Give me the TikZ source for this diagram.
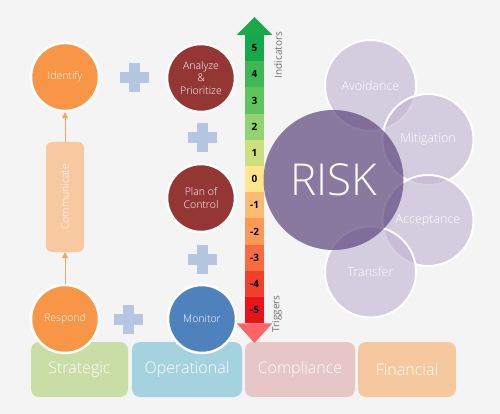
\documentclass[tikz,border=0pt]{standalone}
\usepackage{fontspec}
\setmainfont{Open Sans}
\newfontfamily\lightfont{Open Sans Light}
\usetikzlibrary{arrows.meta}
\usepackage{xcolor}
\definecolor{bg}{HTML}{F4F4F4}
\definecolor{orange}{HTML}{F79646}
\definecolor{maroon}{HTML}{943634}
\definecolor{steel}{HTML}{4F81BD}
\definecolor{crossc}{HTML}{B7C6E0}
\definecolor{commfill}{HTML}{F8C8A0}
\definecolor{commline}{HTML}{F7A365}
\definecolor{strat}{HTML}{C9DDA7}
\definecolor{oper}{HTML}{A4D2DF}
\definecolor{compl}{HTML}{E6C6C7}
\definecolor{fin}{HTML}{F6C8A0}
\definecolor{sat}{HTML}{C0B2D2}
\definecolor{riskc}{HTML}{5D467C}
\definecolor{l5}{HTML}{14A94B}
\definecolor{l4}{HTML}{3DB853}
\definecolor{l3}{HTML}{5EC45E}
\definecolor{l2}{HTML}{93D270}
\definecolor{l1}{HTML}{CDE07D}
\definecolor{l0}{HTML}{FFE68A}
\definecolor{m1}{HTML}{FDBB72}
\definecolor{m2}{HTML}{FC9957}
\definecolor{m3}{HTML}{F96A3E}
\definecolor{m4}{HTML}{F0402A}
\definecolor{m5}{HTML}{E8141A}
\definecolor{headup}{HTML}{19A94A}
\definecolor{headdown}{HTML}{FF6464}
\definecolor{grey}{HTML}{707070}

\begin{document}
\begin{tikzpicture}[x=1pt, y=-1pt,
		c/.style = {circle,	draw=white,	line width=2.5pt,	minimum size=68pt,	inner sep=0pt,	text=white,	align=center,	font=\lightfont\fontsize{10.5}{12.5}\selectfont},
		b/.style = {rectangle,	rounded corners=8pt,	minimum height=55pt,	inner sep=0pt,	text=white,	font=\lightfont\fontsize{16}{19}\selectfont},
		n/.style = {rectangle,	minimum width=19pt,	minimum height=26.2pt,	inner sep=0pt,	font=\bfseries\fontsize{10}{12}\selectfont},
		o/.style = {circle,	draw=white,	line width=2pt,	fill=sat,	fill opacity=0.6,	text opacity=1,	minimum size=91pt,	inner sep=0pt,	text=white,	font=\lightfont\fontsize{12.5}{15}\selectfont},
		r/.style = {-{Triangle[length=6pt, width=6pt]}, draw=commline, line width=1pt},
		crossmark/.pic = {
			\fill[crossc] (-14.5,-5.5) rectangle (14.5,5.5);
			\fill[crossc] (-5.5,-14.5) rectangle (5.5,14.5);
		}
		]
		
		%Background
		\fill[bg] (0,0) rectangle (500,414);
		
		%Bottom boxes
		\node[b, fill=strat,	minimum width=97pt]		(strategic)		at (79.5, 369.5)	{Strategic};
		\node[b, fill=oper,		minimum width=110pt]	(operational)	at (187, 369.5)		{Operational};
		\node[b, fill=compl,	minimum width=110pt]	(compliance)	at (300, 369.5)		{Compliance};
		\node[b, fill=fin,		minimum width=98pt]		(financial)		at (407, 369.5)		{Financial};
		
		%Process circles
		\node[c, fill=orange]	(identify)	at (65, 77)		{Identify};
		\node[c, fill=maroon]	(analyze)	at (201, 78)	{Analyze\\\&\\Prioritize};
		\node[c, fill=maroon]	(plan)		at (201, 198)	{Plan of\\Control};
		\node[c, fill=steel]	(monitor)	at (202, 319)	{Monitor};
		\node[c, fill=orange]	(respond)	at (65, 319)	{Respond};
		
		\node[rectangle, rounded corners=6pt, fill=commfill, minimum width=38pt, minimum height=110pt, inner sep=0pt]
			(comm) at (65, 197) {};
		\node[rotate=90, text=white, font=\lightfont\fontsize{10.5}{12.5}\selectfont] at (comm.center) {Communicate};
		
		\pic at (134, 78)	{crossmark};
		\pic at (202, 138)	{crossmark};
		\pic at (202, 259)	{crossmark};
		\pic at (128, 319)	{crossmark};
		
		%Scale
		\node[n, fill=l5]	(s5)	at (254.5, 48.1)	{5};
		\node[n, fill=l4]	(s4)	at (254.5, 74.3)	{4};
		\node[n, fill=l3]	(s3)	at (254.5, 100.5)	{3};
		\node[n, fill=l2]	(s2)	at (254.5, 126.7)	{2};
		\node[n, fill=l1]	(s1)	at (254.5, 152.9)	{1};
		\node[n, fill=l0]	(s0)	at (254.5, 179.1)	{0};
		\node[n, fill=m1]	(sm1)	at (254.5, 205.3)	{-1};
		\node[n, fill=m2]	(sm2)	at (254.5, 231.5)	{-2};
		\node[n, fill=m3]	(sm3)	at (254.5, 257.7)	{-3};
		\node[n, fill=m4]	(sm4)	at (254.5, 283.9)	{-4};
		\node[n, fill=m5]	(sm5)	at (254.5, 310.1)	{-5};
		
		\coordinate (uptip)		at (254.5, 17);
		\coordinate (downtip)	at (254.5, 343);
		\fill[headup]	([xshift=-8pt]s5.north west)	-- ([xshift=8pt]s5.north east)	-- (uptip)		-- cycle;
		\fill[headdown]	([xshift=-8pt]sm5.south west)	-- ([xshift=8pt]sm5.south east)	-- (downtip)	-- cycle;
		
		\node[rotate=90, text=grey, font=\fontsize{10}{12}\selectfont]	(indicators)	at (278, 55)	{Indicators};
		\node[rotate=90, text=grey, font=\fontsize{10}{12}\selectfont]	(triggers)		at (277, 314)	{Triggers};
		
		%Risk
		\node[o]	(avoidance)		at (370.5, 85.5)	{Avoidance};
		\node[o]	(mitigation)	at (428, 139.5)		{Mitigation};
		\node[o]	(acceptance)	at (428, 220.5)		{Acceptance};
		\node[o]	(transfer)		at (370.5, 272)		{Transfer};
		\node[circle, fill=riskc, fill opacity=0.7, text opacity=1, minimum size=140pt, inner sep=0pt, text=white, font=\lightfont\fontsize{44}{52}\selectfont]
			(risk) at (333.5, 180) {RISK};
		
		%Lines
		\draw[r]	(respond)	--	(comm);
		\draw[r]	(comm)		--	(identify);
	\end{tikzpicture}
\end{document}
